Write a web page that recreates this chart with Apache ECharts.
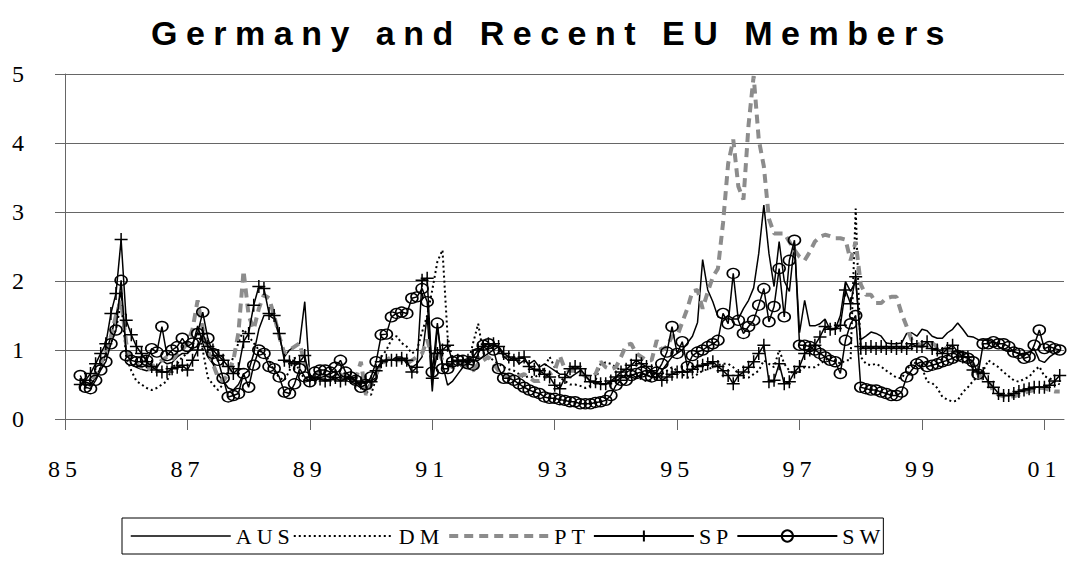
<!DOCTYPE html>
<html>
<head>
<meta charset="utf-8">
<script src="https://cdn.jsdelivr.net/npm/echarts@6/dist/echarts.min.js"></script>
<style>
    html, body { margin: 0; padding: 0; background: #fff; }
    #chartRoot { width: 1070px; height: 565px; }
    /* Excel-style spaced lettering */
    #chartRoot text { letter-spacing: 5px; }
    #chartRoot text[style*="bold"] { letter-spacing: 8.5px; }
</style>
</head>
<body>
<div id="chartRoot"></div>
<script>
// monthly data, Apr 1985 .. Apr 2001
const seriesNames = ["AUS", "DM", "PT", "SP", "SW"];
const xTickLabels = ["85", "87", "89", "91", "93", "95", "97", "99", "01"];

const aus = [
    .55, .48, .5, .6, .75, .95, 1.2, 1.5, 1.85,                    // 85
    1.0, .8, .75, .72, .7, .72, .75, .85, .8, .82, .9, .95,         // 86
    .95, 1.05, 1.35, 1.1, .9, .8, .65, .55, .45, .42, .5, .65,      // 87
    .7, .95, 1.3, 1.5, 1.5, 1.45, 1.2, .9, 1.0, 1.05, 1.1, 1.7,     // 88
    .6, .55, .6, .62, .65, .7, .6, .62, .55, .5, .45, .4,           // 89
    .55, .6, .8, .85, .85, .9, .9, .8, .75, .8, .9, 1.5,            // 90
    .4, 1.34, .8, .49, .55, .65, .75, .8, .85, .85, .9, .95,        // 91
    1.0, 1.05, .9, .85, .9, .8, .85, .8, .85, .75, .8, .75,         // 92
    .7, .65, .65, .6, .65, .7, .62, .55, .55, .5, .5, .55,          // 93
    .55, .6, .6, .65, .6, .65, .65, .6, .6, .7, .8, .9,             // 94
    .95, 1.0, 1.1, 1.2, 1.4, 2.31, 1.87, 1.7, 1.48, 1.45, 1.5, 1.45, // 95
    1.45, 1.6, 1.72, 1.9, 2.4, 3.1, 2.4, 1.92, 2.57, 2.0, 1.85, 2.55, // 96
    1.25, 1.72, 1.35, 1.35, 1.38, 1.45, 1.29, 1.3, 1.5, 1.99, 1.85, 2.0, // 97
    1.15, 1.2, 1.26, 1.24, 1.2, 1.1, 1.09, 1.09, 1.1, 1.24, 1.25, 1.2, // 98
    1.3, 1.28, 1.2, 1.17, 1.17, 1.25, 1.3, 1.39, 1.3, 1.2, 1.19, 1.15, // 99
    1.14, 1.14, 1.12, 1.05, 1.0, 1.0, .98, .95, .92, .97, 1.02, .85, // 00
    .82, .9, .95, 1.0                                              // 01
];

const dm = [
    .5, .45, .5, .6, .75, .9, 1.1, 1.3, 1.7,
    .9, .7, .55, .5, .45, .42, .45, .5, .55, .75, .8, .9,
    .95, 1.05, 1.3, 1.0, .6, .5, .42, .5, .7, .9, 1.1, 1.3,
    1.2, 1.1, 1.0, .95, .85, .7, .6, .56, .7, .9, .66, .6,
    .6, .65, .7, .65, .6, .62, .7, .65, .6, .55, .5, .4,
    .35, .6, .9, 1.0, 1.15, 1.2, 1.1, 1.05, .95, 1.0, 1.26, 1.5,
    1.87, 2.28, 2.45, 1.2, .85, .8, .75, .8, 1.1, 1.38, .95, .9,
    .85, .8, .75, .72, .7, .65, .6, .62, .6, .65, .75, .9,
    .75, .6, .55, .5, .5, .48, .45, .48, .55, .8, .82, .8,
    .75, .7, .65, .62, .6, .58, .55, .55, .6, .65, .7, .75,
    .7, .65, .6, .6, .65, .7, .72, .75, .78, .8, .8, .75,
    .65, .6, .6, .65, .7, .85, .8, .75, 1.0, .8, .7, .65,
    .7, .75, .75, .75, .8, .85, .9, .85, .8, .85, .85, 3.05,
    .9, .8, .78, .8, .76, .7, .65, .6, .59, .7, .83, .8,
    .75, .54, .52, .45, .32, .28, .25, .27, .39, .46, .55, .62,
    .7, .85, .8, .75, .68, .62, .56, .54, .58, .61, .7, .76,
    .62, .59, .55, .5
];

const pt = [
    .55, .5, .55, .65, .8, 1.0, 1.2, 1.5, 1.72,
    1.1, .85, .8, .75, .7, .75, .8, .85, .9, .85, .95, 1.0,
    1.1, 1.3, 1.72, 1.3, 1.0, .8, .6, .55, .65, .85, 1.25, 2.15,
    1.5, 1.3, 1.6, 1.8, 1.75, 1.5, 1.2, .95, 1.0, 1.05, 1.1, .8,
    .7, .65, .7, .65, .6, .6, .65, .6, .6, .58, .83, .35,
    .5, .65, .8, .85, .9, .85, .85, .8, .85, .9, .95, 1.15,
    .9, 1.0, .85, .8, .75, .75, .8, .75, .7, .8, .85, .9,
    .8, .7, .65, .6, .6, .62, .65, .6, .55, .55, .6, .65,
    .7, .92, .72, .7, .7, .68, .62, .6, .65, .83, .75, .72,
    .75, .9, 1.07, 1.09, .95, .9, .85, .85, 1.14, 1.0, 1.05, 1.2,
    1.2, 1.4, 1.6, 1.85, 1.87, 1.6, 1.84, 2.06, 2.18, 2.84, 3.7, 4.05,
    3.37, 3.18, 4.26, 4.97, 4.05, 3.66, 2.9, 2.69, 2.69, 2.69, 2.57, 2.45,
    2.35, 2.3, 2.42, 2.57, 2.64, 2.67, 2.65, 2.62, 2.62, 2.6, 2.3, 2.57,
    1.95, 1.8, 1.8, 1.68, 1.68, 1.75, 1.77, 1.77, 1.53, 1.34, 1.14, 1.1,
    1.05, 1.1, 1.1, 1.05, 1.05, 1.0, 1.0, .95, .95, .9, .8, .65,
    .58, .55, .4, .35, .33, .32, .33, .35, .38, .4, .42, .45,
    .45, .42, .4, .4
];

const sp = [
    .5, .56, .66, .8, .95, 1.09, 1.53, 1.82, 2.6,
    1.43, 1.22, 1.05, .95, .83, .76, .71, .68, .68, .73, .75, .78,
    .71, .85, 1.0, 1.24, 1.05, 1.0, .92, .85, .76, .66, .73, 1.12,
    1.24, 1.65, 1.92, 1.89, 1.53, 1.5, 1.24, .85, .83, .8, .83, .92,
    .56, .6, .58, .55, .57, .6, .55, .58, .6, .55, .52, .54,
    .54, .7, .83, .85, .85, .85, .88, .85, .68, .75, 2.01, 2.04,
    .59, .95, 1.0, 1.07, .83, .85, .83, .85, .9, 1.0, 1.05, 1.09,
    1.09, 1.05, .95, .9, .85, .88, .9, .76, .72, .7, .65, .61,
    .49, .44, .6, .73, .76, .73, .63, .54, .54, .51, .51, .55,
    .61, .68, .72, .78, .85, .8, .76, .7, .66, .56, .61, .65,
    .68, .68, .68, .72, .76, .78, .8, .83, .76, .7, .63, .51,
    .63, .68, .75, .83, .95, 1.07, .54, .56, .8, .51, .54, .68,
    .76, .95, 1.0, 1.07, 1.19, 1.34, 1.3, 1.31, 1.36, 1.87, 1.67, 2.06,
    1.05, 1.02, 1.05, 1.02, 1.05, 1.02, 1.05, 1.02, 1.05, 1.02, 1.09, 1.05,
    1.05, 1.12, 1.02, 1.0, .95, 1.02, 1.07, .97, .9, .9, .71, .68,
    .66, .54, .46, .37, .34, .34, .37, .4, .42, .44, .46, .46,
    .46, .49, .55, .63
];

const sw = [
    .63, .46, .44, .56, .71, .83, 1.09, 1.29, 2.01,
    .92, .85, .83, .83, .85, 1.02, .97, 1.34, .92, 1.0, 1.05, 1.17,
    1.05, 1.1, 1.24, 1.55, 1.17, .95, .85, .59, .32, .34, .37, .66,
    .46, .78, 1.0, .95, .76, .73, .61, .39, .37, .51, .73, .61,
    .54, .68, .71, .71, .68, .75, .85, .68, .61, .56, .46, .5,
    .61, .83, 1.22, 1.23, 1.48, 1.53, 1.55, 1.53, 1.75, 1.77, 1.89, 1.7,
    .68, 1.39, .73, .73, .83, .85, .85, .8, .78, .95, 1.07, 1.09,
    1.0, .73, .59, .59, .56, .51, .46, .42, .39, .37, .32, .3,
    .3, .28, .27, .25, .25, .22, .22, .22, .24, .25, .27, .34,
    .49, .56, .56, .63, .66, .68, .63, .61, .68, .8, .97, 1.34,
    .95, 1.12, .76, .92, .97, 1.0, 1.05, 1.09, 1.14, 1.53, 1.38, 2.11,
    1.43, 1.24, 1.34, 1.43, 1.65, 1.89, 1.41, 1.63, 2.18, 1.48, 2.3, 2.59,
    1.07, 1.07, 1.05, 1.0, .95, .9, .85, .83, .66, 1.14, 1.38, 1.5,
    .46, .44, .42, .42, .39, .37, .34, .34, .39, .61, .71, .8,
    .83, .76, .78, .8, .83, .85, .88, .92, .9, .88, .83, .65,
    1.09, 1.09, 1.12, 1.09, 1.09, 1.05, .97, .95, .88, .9, 1.07, 1.29,
    1.02, 1.05, 1.02, 1.0
];

// x position = years since 1985 (first point is April 1985)
const toPairs = arr => arr.map((v, i) => [0.25 + i / 12, v]);

const plusSymbol = "path://M5,0L5,10M0,5L10,5";

const lineStyles = {
    AUS: {color: "#000", width: 1.5},
    DM: {color: "#000", width: 2, type: [2, 3]},
    PT: {color: "#8c8c8c", width: 4, type: [9, 6]},
    SP: {color: "#000", width: 1.5},
    SW: {color: "#000", width: 1.5}
};

let myChart = echarts.init(document.querySelector("#chartRoot"), null, {renderer: "svg"});

// plain lines get no marker in the legend
let legendData = seriesNames.map(name => {
    if (name === "SP" || name === "SW") {
        return {name};
    }
    return {name, itemStyle: {opacity: 0}, lineStyle: lineStyles[name]};
});

let option = {
    animation: false,
    backgroundColor: "#fff",
    title: {
        text: "Germany and Recent EU Members",
        // letter-spacing widens the text to the right, so place it by its left edge
        left: 146,
        top: 11,
        textStyle: {
            fontFamily: "Liberation Sans",
            fontWeight: "bold",
            fontSize: 34,
            color: "#000"
        }
    },
    legend: {
        data: legendData,
        left: 122,
        top: 518,
        itemWidth: 100,
        itemHeight: 14,
        itemGap: 13,
        padding: [7, 8],
        borderColor: "#000",
        borderWidth: 1,
        textStyle: {
            fontFamily: "Liberation Serif",
            fontSize: 22,
            color: "#000"
        }
    },
    grid: {
        left: 65,
        right: 6,
        top: 74,
        bottom: 146
    },
    xAxis: {
        type: "value",
        min: 0,
        max: 16.32,
        interval: 2,
        axisLine: {lineStyle: {color: "#666", width: 1}},
        axisTick: {length: 11, lineStyle: {color: "#666"}},
        splitLine: {show: false},
        axisLabel: {
            margin: 38,
            fontFamily: "Liberation Serif",
            fontSize: 24,
            color: "#000",
            formatter: v => xTickLabels[Math.round(v / 2)] || ""
        }
    },
    yAxis: {
        type: "value",
        min: 0,
        max: 5,
        interval: 1,
        axisLine: {show: true, lineStyle: {color: "#666", width: 1}},
        axisTick: {show: true, length: 10, lineStyle: {color: "#666"}},
        splitLine: {lineStyle: {color: "#666", width: 1}},
        axisLabel: {
            margin: 36,
            fontFamily: "Liberation Serif",
            fontSize: 24,
            color: "#000"
        }
    },
    series: [
        {
            name: "AUS",
            type: "line",
            data: toPairs(aus),
            showSymbol: false,
            symbol: "none",
            lineStyle: lineStyles.AUS,
            itemStyle: {color: "#000"}
        },
        {
            name: "DM",
            type: "line",
            data: toPairs(dm),
            showSymbol: false,
            symbol: "none",
            lineStyle: lineStyles.DM,
            itemStyle: {color: "#000"}
        },
        {
            name: "PT",
            type: "line",
            data: toPairs(pt),
            showSymbol: false,
            symbol: "none",
            lineStyle: lineStyles.PT,
            itemStyle: {color: "#8c8c8c"}
        },
        {
            name: "SP",
            type: "line",
            data: toPairs(sp),
            symbol: plusSymbol,
            symbolSize: 13,
            lineStyle: lineStyles.SP,
            itemStyle: {color: "#000", borderColor: "#000", borderWidth: 1.5}
        },
        {
            name: "SW",
            type: "line",
            data: toPairs(sw),
            symbol: "circle",
            symbolSize: [12, 10],
            lineStyle: lineStyles.SW,
            itemStyle: {color: "transparent", borderColor: "#000", borderWidth: 1.5}
        }
    ]
};
myChart.setOption(option, true);
</script>
</body>
</html>
